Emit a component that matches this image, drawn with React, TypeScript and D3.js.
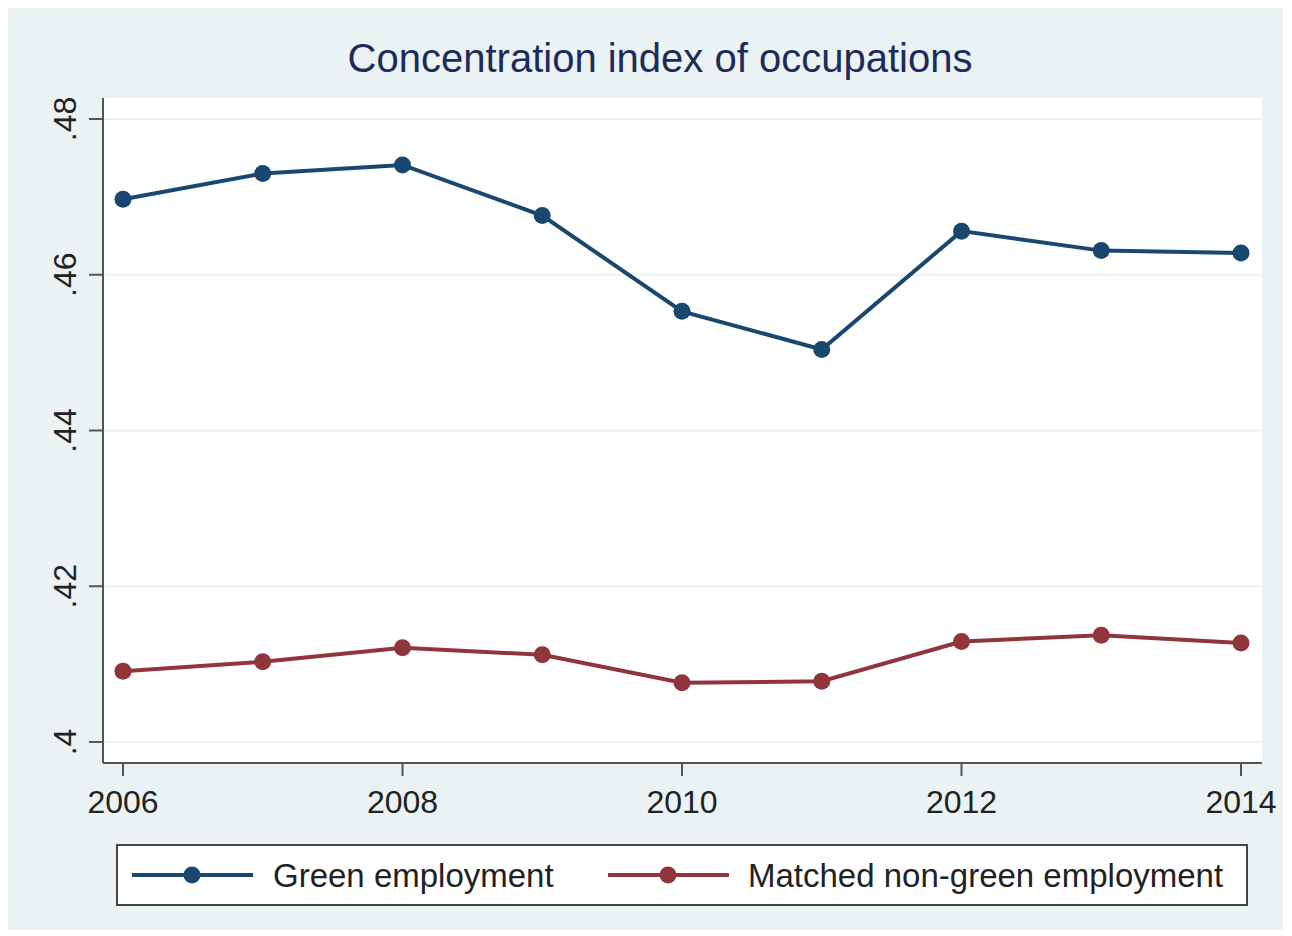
import * as d3 from 'd3';

const years = [2006, 2007, 2008, 2009, 2010, 2011, 2012, 2013, 2014];
const green = [0.4697, 0.4730, 0.4741, 0.4676, 0.4553, 0.4504, 0.4656, 0.4631, 0.4628];
const nonGreen = [0.4091, 0.4103, 0.4121, 0.4112, 0.4076, 0.4078, 0.4129, 0.4137, 0.4127];
const yTicks = [0.4, 0.42, 0.44, 0.46, 0.48];
const xTicks = [2006, 2008, 2010, 2012, 2014];
const seriesNames = ['Green employment', 'Matched non-green employment'];

const W = 1292,
  H = 936;
const FONT = 'Liberation Sans, Arial, sans-serif';
const BG = '#eaf2f3';
const GREEN = '#1a476f';
const RED = '#90353b';

// plot region
const plot = { left: 103, right: 1262, top: 98, bottom: 763 };

const fmt = (v: number) => (v === 0.4 ? '.4' : d3.format('.2f')(v).replace(/^0/, ''));

export default function App() {
  const x = d3.scaleLinear().domain([2006, 2014]).range([123, 1241]);
  const y = d3.scaleLinear().domain([0.4, 0.48]).range([742, 119]);

  const line = d3
    .line<number>()
    .x((_, i) => x(years[i]))
    .y(d => y(d));

  const series = [
    { name: seriesNames[0], values: green, color: GREEN },
    { name: seriesNames[1], values: nonGreen, color: RED },
  ];

  const legendItems = [
    { x0: 132, tx: 273 },
    { x0: 608, tx: 748 },
  ];

  return (
    <svg
      width={W}
      height={H}
      style={{ position: 'absolute', left: 0, top: 0, background: '#fff' }}
      fontFamily={FONT}
    >
      <rect x={8} y={8} width={1275} height={922} fill={BG} />
      <rect
        x={plot.left}
        y={plot.top}
        width={plot.right - plot.left}
        height={plot.bottom - plot.top}
        fill="#fff"
      />

      {/* grid */}
      {yTicks.map(t => (
        <line
          key={t}
          x1={plot.left}
          x2={plot.right}
          y1={y(t)}
          y2={y(t)}
          stroke={BG}
          strokeWidth={2}
        />
      ))}

      <text x={660} y={72} textAnchor="middle" fontSize={40} fill="#1e2b59">
        Concentration index of occupations
      </text>

      {/* y axis */}
      <line x1={plot.left} x2={plot.left} y1={plot.top} y2={plot.bottom} stroke="#555" strokeWidth={2} />
      {yTicks.map(t => (
        <g key={t}>
          <line x1={plot.left - 14} x2={plot.left} y1={y(t)} y2={y(t)} stroke="#555" strokeWidth={2} />
          <text
            transform={`translate(76,${y(t)}) rotate(-90)`}
            textAnchor="middle"
            fontSize={32}
            fill="#222"
          >
            {fmt(t)}
          </text>
        </g>
      ))}

      {/* x axis */}
      <line x1={plot.left} x2={plot.right} y1={plot.bottom} y2={plot.bottom} stroke="#555" strokeWidth={2} />
      {xTicks.map(t => (
        <g key={t}>
          <line x1={x(t)} x2={x(t)} y1={plot.bottom} y2={plot.bottom + 13} stroke="#555" strokeWidth={2} />
          <text x={x(t)} y={813} textAnchor="middle" fontSize={32} fill="#222">
            {t}
          </text>
        </g>
      ))}

      {/* series */}
      {series.map(s => (
        <g key={s.name}>
          <path d={line(s.values) ?? ''} fill="none" stroke={s.color} strokeWidth={4} />
          {s.values.map((v, i) => (
            <circle key={i} cx={x(years[i])} cy={y(v)} r={8.5} fill={s.color} />
          ))}
        </g>
      ))}

      {/* legend */}
      <rect x={117} y={845} width={1130} height={60} fill="#fff" stroke="#444" strokeWidth={2} />
      {series.map((s, i) => {
        const it = legendItems[i];
        return (
          <g key={s.name}>
            <line x1={it.x0} x2={it.x0 + 121} y1={875} y2={875} stroke={s.color} strokeWidth={4} />
            <circle cx={it.x0 + 60} cy={875} r={8.5} fill={s.color} />
            <text x={it.tx} y={887} fontSize={33} fill="#222">
              {s.name}
            </text>
          </g>
        );
      })}
    </svg>
  );
}
